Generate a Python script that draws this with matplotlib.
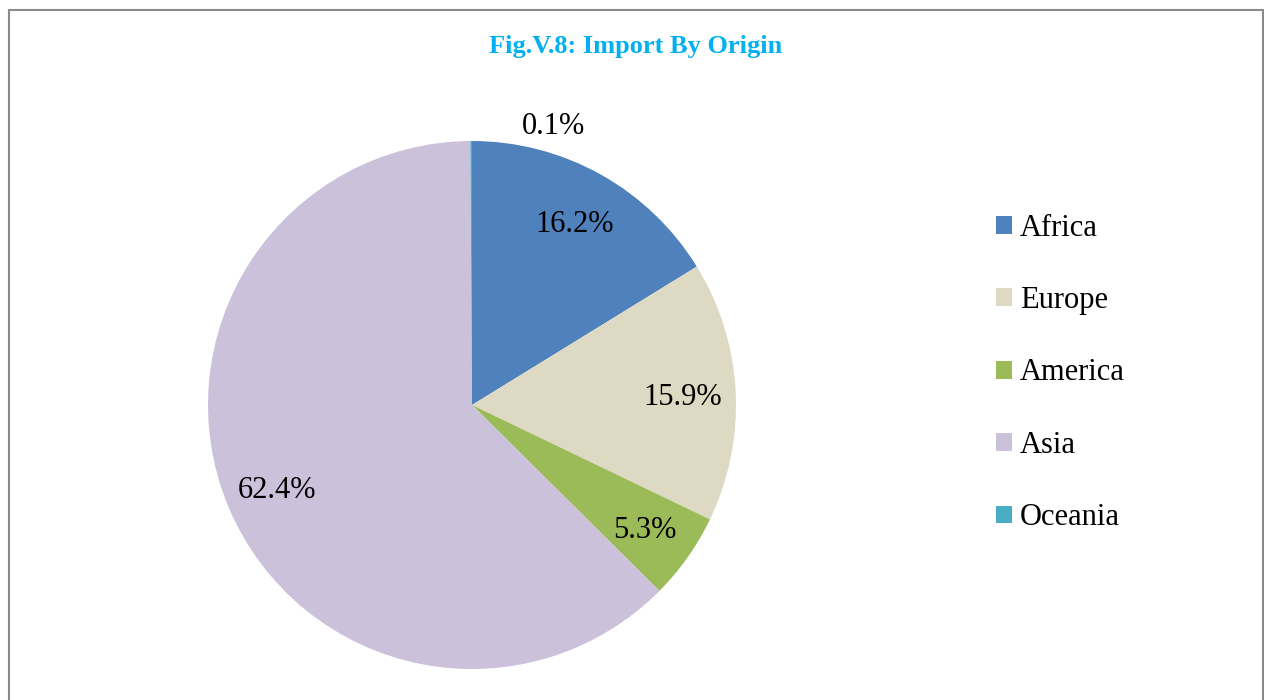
import matplotlib
matplotlib.use("Agg")
import matplotlib.pyplot as plt
from matplotlib.patches import Patch, Rectangle

plt.rcParams["font.family"] = ["Liberation Serif", "DejaVu Serif"]

# data
regions = ["Africa", "Europe", "America", "Asia", "Oceania"]
shares = [16.2, 15.9, 5.3, 62.4, 0.1]
colors = ["#4F81BD", "#DDD9C3", "#9BBB59", "#CCC1DA", "#4BACC6"]
title = "Fig.V.8: Import By Origin"

W, H = 1264, 700
fig = plt.figure(figsize=(W / 100, H / 100), dpi=100)

# frame around the chart area
fig.patches.append(
    Rectangle((8.5 / W, -0.05), (1263 - 8.5) / W, (H - 9.5) / H + 0.05,
              transform=fig.transFigure, fill=False, edgecolor="#8a8a8a",
              linewidth=1.5, zorder=0)
)

# pie centred at (472, 405) px with radius 264 px
cx, cy, r = 472, 405, 264
ax = fig.add_axes([(cx - r) / W, (H - cy - r) / H, 2 * r / W, 2 * r / H])
wedges, texts, autotexts = ax.pie(
    shares, colors=colors, startangle=90, counterclock=False,
    autopct=lambda p: "", pctdistance=0.8, radius=1,
    wedgeprops=dict(linewidth=0),
)
for w, t, v in zip(wedges, autotexts, shares):
    t.set_text(f"{v:.1f}%")
    t.set_fontsize(22)
    t.set_color("black")
    t.set_verticalalignment("center_baseline")
# the tiny Oceania label sits outside the pie, offset to the right
autotexts[-1].set_position((0.31, 1.07))
ax.set_xlim(-1, 1)
ax.set_ylim(-1, 1)
ax.set_aspect("equal")
ax.axis("off")

fig.text(636 / W, 1 - 47 / H, title, ha="center", va="center",
         fontsize=19, fontweight="bold", color="#00B0F0")

handles = [Patch(facecolor=c, edgecolor="none") for c in colors]
fig.legend(handles, regions, loc="center left",
           bbox_to_anchor=(996 / W, 1 - 373 / H), frameon=False,
           fontsize=22, handlelength=0.52, handleheight=0.52,
           handletextpad=0.26, labelspacing=1.42, borderpad=0,
           borderaxespad=0)

fig.savefig("out.png", dpi=100)
